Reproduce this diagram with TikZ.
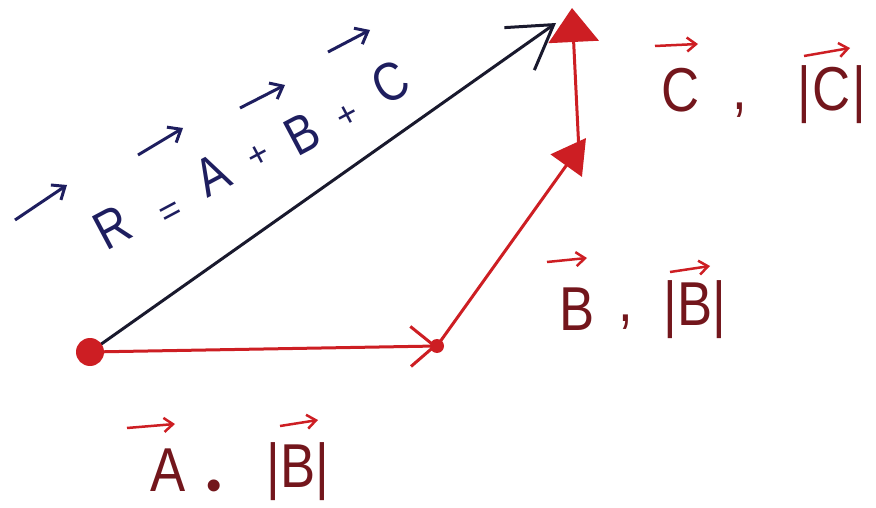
\documentclass[tikz,border=0pt]{standalone}
\usepackage{fontspec}
\setmainfont{Liberation Sans}
\usetikzlibrary{arrows.meta}
\definecolor{vred}{RGB}{205,30,35}
\definecolor{tred}{RGB}{115,22,28}
\definecolor{navy}{RGB}{30,30,95}
\definecolor{rline}{RGB}{25,25,45}
\begin{document}
\begin{tikzpicture}[x=1pt,y=-1pt,
  vec/.style={draw=vred, line width=3pt},
  dot/.style={circle, fill=vred, inner sep=0pt, minimum size=#1},
  lbl/.style={text=tred, font=\fontsize{62}{62}\selectfont, inner sep=0pt, xscale=0.85},
  lblsm/.style={text=tred, font=\fontsize{44}{44}\selectfont, inner sep=1pt},
  eqn/.style={text=navy, font=\fontsize{54}{54}\selectfont, rotate=28, inner sep=0pt, xscale=0.85},
  eqop/.style={text=navy, font=\fontsize{36}{36}\selectfont, rotate=28, inner sep=0pt},
  eqarrow/.style={draw=navy, line width=3pt, -{Straight Barb[length=11pt,width=18pt]}},
  lblarrow/.style={draw=vred, line width=2.5pt, -{Straight Barb[length=9pt,width=14pt]}}]
\useasboundingbox (0,0) rectangle (876,508);
% points
\coordinate (O) at (90,352);
\coordinate (P1) at (437,346);
\coordinate (P2) at (586,138);
\coordinate (P2s) at (579,152);
\coordinate (P3) at (572,8);
\coordinate (Rt) at (556,23);
% resultant
\draw[draw=rline, line width=3pt, -{Straight Barb[length=42pt,width=52pt]}] (O) -- (Rt);
% vectors
\draw[vec, -{Straight Barb[length=24pt,width=40pt]}] (O) -- (P1);
\draw[vec, -{Triangle[length=34pt,width=38pt]}] (P1) -- (P2);
\draw[vec, -{Triangle[length=34pt,width=50pt]}] (P2s) -- (P3);
\node[dot=28pt] (Odot) at (O) {};
\node[dot=14pt] (P1dot) at (P1) {};
% equation
\node[eqn] (eR) at (112,227) {R};
\node[eqop] (eEq) at (172,214) {=};
\node[eqn] (eA) at (212,175) {A};
\node[eqop] (ep1) at (259,156) {+};
\node[eqn] (eB) at (302,134) {B};
\node[eqop] (ep2) at (348,116) {+};
\node[eqn] (eC) at (390,82) {C};
\coordinate (aR1) at (15,220); \coordinate (aR2) at (67,185);
\coordinate (aA1) at (138,155); \coordinate (aA2) at (183,128);
\coordinate (aB1) at (240,108); \coordinate (aB2) at (285,85);
\coordinate (aC1) at (328,52); \coordinate (aC2) at (370,30);
\draw[eqarrow] (aR1) -- (aR2);
\draw[eqarrow] (aA1) -- (aA2);
\draw[eqarrow] (aB1) -- (aB2);
\draw[eqarrow] (aC1) -- (aC2);
% label C
\node[lbl] (lC) at (681,90) {C};
\node[lbl] (lCc) at (740,110) {,};
\node[lbl] (lCm) at (832,95) {|\hspace{2pt}C\hspace{2pt}|};
\coordinate (cC1) at (655,46); \coordinate (cC2) at (698,44);
\coordinate (cM1) at (804,56); \coordinate (cM2) at (850,48);
\draw[lblarrow] (cC1) -- (cC2);
\draw[lblarrow] (cM1) -- (cM2);
% label B
\node[lbl] (lB) at (577,309) {B};
\node[lbl] (lBc) at (626,322) {,};
\node[lbl] (lBm) at (695,310) {|B|};
\coordinate (bB1) at (547,262); \coordinate (bB2) at (587,258);
\coordinate (bM1) at (670,272); \coordinate (bM2) at (710,266);
\draw[lblarrow] (bB1) -- (bB2);
\draw[lblarrow] (bM1) -- (bM2);
% label A
\node[lbl] (lA) at (168,470) {A};
\node[lblsm] (lAc) at (214,490) {•};
\node[lbl] (lAm) at (298,472) {|B|};
\coordinate (aa1) at (127,428); \coordinate (aa2) at (175,424);
\coordinate (am1) at (280,426); \coordinate (am2) at (318,420);
\draw[lblarrow] (aa1) -- (aa2);
\draw[lblarrow] (am1) -- (am2);
\end{tikzpicture}
\end{document}
